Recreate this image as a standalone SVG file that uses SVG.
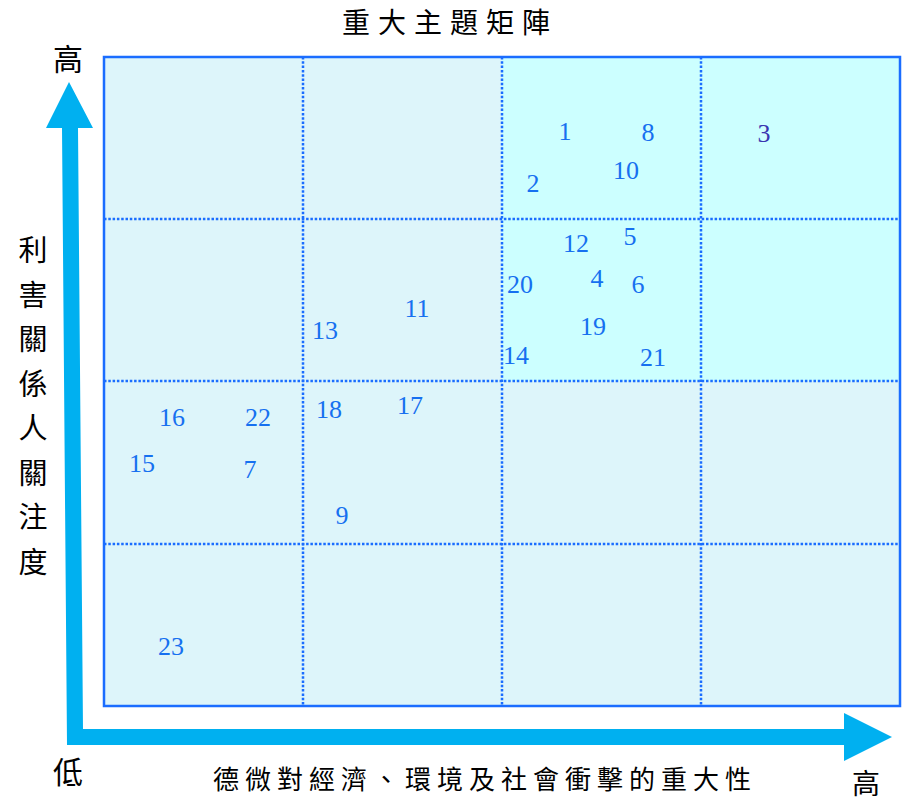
<svg xmlns="http://www.w3.org/2000/svg" width="904" height="801" viewBox="0 0 904 801">
<style>
.cjk{font-family:"Noto Sans CJK TC","Noto Sans CJK SC",sans-serif;fill:#000}
.num{font-family:"Liberation Serif","Times New Roman",serif;font-size:26px;fill:#1670F0;text-anchor:middle}
.n3{fill:#3A35B0}
.cell{fill:#DDF5FA}
.hot{fill:#CCFFFF}
.grid{stroke:#1A6DFF;stroke-width:2.5;stroke-dasharray:2.5 1.8;fill:none}
.frame{fill:none;stroke:#1A6DFF;stroke-width:2.5}
.axis{fill:#00B0F0}
</style>
<rect width="904" height="801" fill="#fff"/>
<g id="matrix">
<rect class="cell" x="104" y="57" width="796" height="649"/>
<rect class="hot" x="502" y="57" width="398" height="324"/>
<g class="grid">
<line x1="303" y1="57" x2="303" y2="706"/>
<line x1="502" y1="57" x2="502" y2="706"/>
<line x1="701" y1="57" x2="701" y2="706"/>
<line x1="104" y1="219" x2="900" y2="219"/>
<line x1="104" y1="381" x2="900" y2="381"/>
<line x1="104" y1="544" x2="900" y2="544"/>
</g>
<rect class="frame" x="104" y="57" width="796" height="649"/>
</g>
<g id="connectors">
<path class="axis" d="M69,82 L93,128 L78,128 L83,729 L844,729 L844,713 L892,737 L844,761 L844,745 L67,745 L62,128 L46,128 Z"/>
</g>
<g id="title">
<text class="cjk" x="342" y="33" font-size="28" letter-spacing="8">重大主題矩陣</text>
</g>
<g id="y-axis-label">
<text class="cjk" x="68" y="70" font-size="30" text-anchor="middle">高</text>
<text class="cjk" x="68" y="783" font-size="30" text-anchor="middle">低</text>
<g class="cjk" font-size="29" text-anchor="middle">
<text x="33" y="261">利</text>
<text x="33" y="306">害</text>
<text x="33" y="350">關</text>
<text x="33" y="395">係</text>
<text x="33" y="439">人</text>
<text x="33" y="484">關</text>
<text x="33" y="528">注</text>
<text x="33" y="573">度</text>
</g>
</g>
<g id="x-axis-label">
<text class="cjk" x="213" y="789" font-size="26" letter-spacing="6">德微對經濟、環境及社會衝擊的重大性</text>
<text class="cjk" x="866" y="794" font-size="28" text-anchor="middle">高</text>
</g>
<g id="topics">
<text class="num" x="565" y="140">1</text>
<text class="num" x="648" y="141">8</text>
<text class="num n3" x="764" y="142">3</text>
<text class="num" x="626" y="179">10</text>
<text class="num" x="533" y="192">2</text>
<text class="num" x="576" y="252">12</text>
<text class="num" x="630" y="245">5</text>
<text class="num" x="520" y="293">20</text>
<text class="num" x="597" y="287">4</text>
<text class="num" x="638" y="293">6</text>
<text class="num" x="593" y="335">19</text>
<text class="num" x="516" y="364">14</text>
<text class="num" x="653" y="366">21</text>
<text class="num" x="417" y="317">11</text>
<text class="num" x="325" y="339">13</text>
<text class="num" x="329" y="418">18</text>
<text class="num" x="410" y="414">17</text>
<text class="num" x="172" y="426">16</text>
<text class="num" x="258" y="426">22</text>
<text class="num" x="142" y="472">15</text>
<text class="num" x="250" y="478">7</text>
<text class="num" x="342" y="524">9</text>
<text class="num" x="171" y="655">23</text>
</g>
</svg>
